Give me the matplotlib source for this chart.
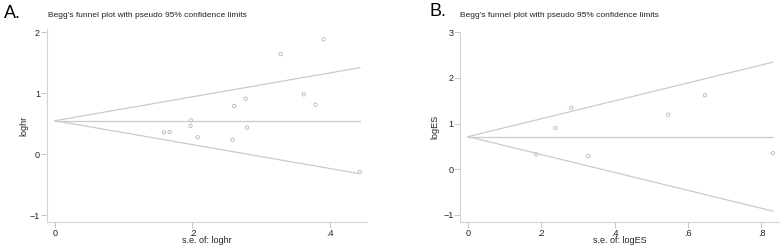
import numpy as np
import matplotlib
matplotlib.use("Agg")
import matplotlib.pyplot as plt

plt.rcParams["font.family"] = ["Liberation Sans", "DejaVu Sans"]

# panel A: loghr vs s.e.
se_a = [0.1585, 0.1668, 0.1978, 0.1973, 0.2076, 0.2584, 0.2608, 0.2773,
        0.2793, 0.3283, 0.3622, 0.3791, 0.3908, 0.4436]
eff_a = [0.36, 0.365, 0.557, 0.464, 0.279, 0.24, 0.792, 0.912,
         0.437, 1.644, 0.983, 0.814, 1.885, -0.285]
pooled_a = 0.551

# panel B: logES vs s.e.
se_b = [0.1855, 0.238, 0.282, 0.328, 0.546, 0.646, 0.831]
eff_b = [0.328, 0.904, 1.348, 0.284, 1.195, 1.619, 0.35]
pooled_b = 0.714

TITLE = "Begg's funnel plot with pseudo 95% confidence limits"
LINE = "#cacaca"
W, H = 784, 249


def axes_px(fig, x0, x1, y_top, y_bot):
    return fig.add_axes([x0 / W, 1 - y_bot / H, (x1 - x0) / W, (y_bot - y_top) / H])


def funnel(ax, se, eff, pooled, var, xlim, ylim, xticks, xtl, yticks, ypad):
    smax = max(se)
    s = np.array([0, smax])
    ax.plot(s, pooled + 1.96 * s, color=LINE, lw=0.9)
    ax.plot(s, pooled - 1.96 * s, color=LINE, lw=0.9)
    ax.plot(s, [pooled, pooled], color=LINE, lw=0.9)
    ax.scatter(se, eff, s=6, facecolors="none", edgecolors="#a8a8a8", linewidths=0.5)
    ax.set_xlim(*xlim)
    ax.set_ylim(*ylim)
    ax.set_xticks(xticks)
    ax.set_xticklabels(xtl)
    ax.set_yticks(yticks)
    ax.set_yticklabels([str(t).replace("-", "\u2212") for t in yticks])
    for sp in ["top", "right"]:
        ax.spines[sp].set_visible(False)
    for sp in ["left", "bottom"]:
        ax.spines[sp].set_color("#d4d4d4")
        ax.spines[sp].set_linewidth(0.8)
    ax.tick_params(length=4, width=0.6, color="#bcbcbc", labelsize=6.5,
                   labelcolor="#222222", pad=1)
    ax.set_xlabel("s.e. of: " + var, fontsize=6.5, color="#222222", labelpad=-1)
    ax.set_ylabel(var, fontsize=6.5, color="#222222", labelpad=ypad)


fig = plt.figure(figsize=(W / 100, H / 100), dpi=100)

ax1 = axes_px(fig, 47, 367, 29.3, 221.7)
funnel(ax1, se_a, eff_a, pooled_a, "loghr", (-0.0116, 0.454), (-1.105, 2.05),
       [0, 0.2, 0.4], ["0", ".2", ".4"], [-1, 0, 1, 2], 1)

ax2 = axes_px(fig, 460.3, 778.7, 31.7, 221.7)
funnel(ax2, se_b, eff_b, pooled_b, "logES", (-0.021, 0.847), (-1.147, 3.01),
       [0, 0.2, 0.4, 0.6, 0.8], ["0", ".2", ".4", ".6", ".8"], [-1, 0, 1, 2, 3], 3)

fig.text(4 / W, 1 - 13 / H, "A.", fontsize=13, va="center", ha="left")
fig.text(48 / W, 1 - 15.7 / H, TITLE, fontsize=6, va="center", ha="left", color="#222222")
fig.text(429 / W, 1 - 12 / H, "B.", fontsize=13, va="center", ha="left")
fig.text(460 / W, 1 - 15.7 / H, TITLE, fontsize=6, va="center", ha="left", color="#222222")

fig.savefig("out.png", dpi=100)
